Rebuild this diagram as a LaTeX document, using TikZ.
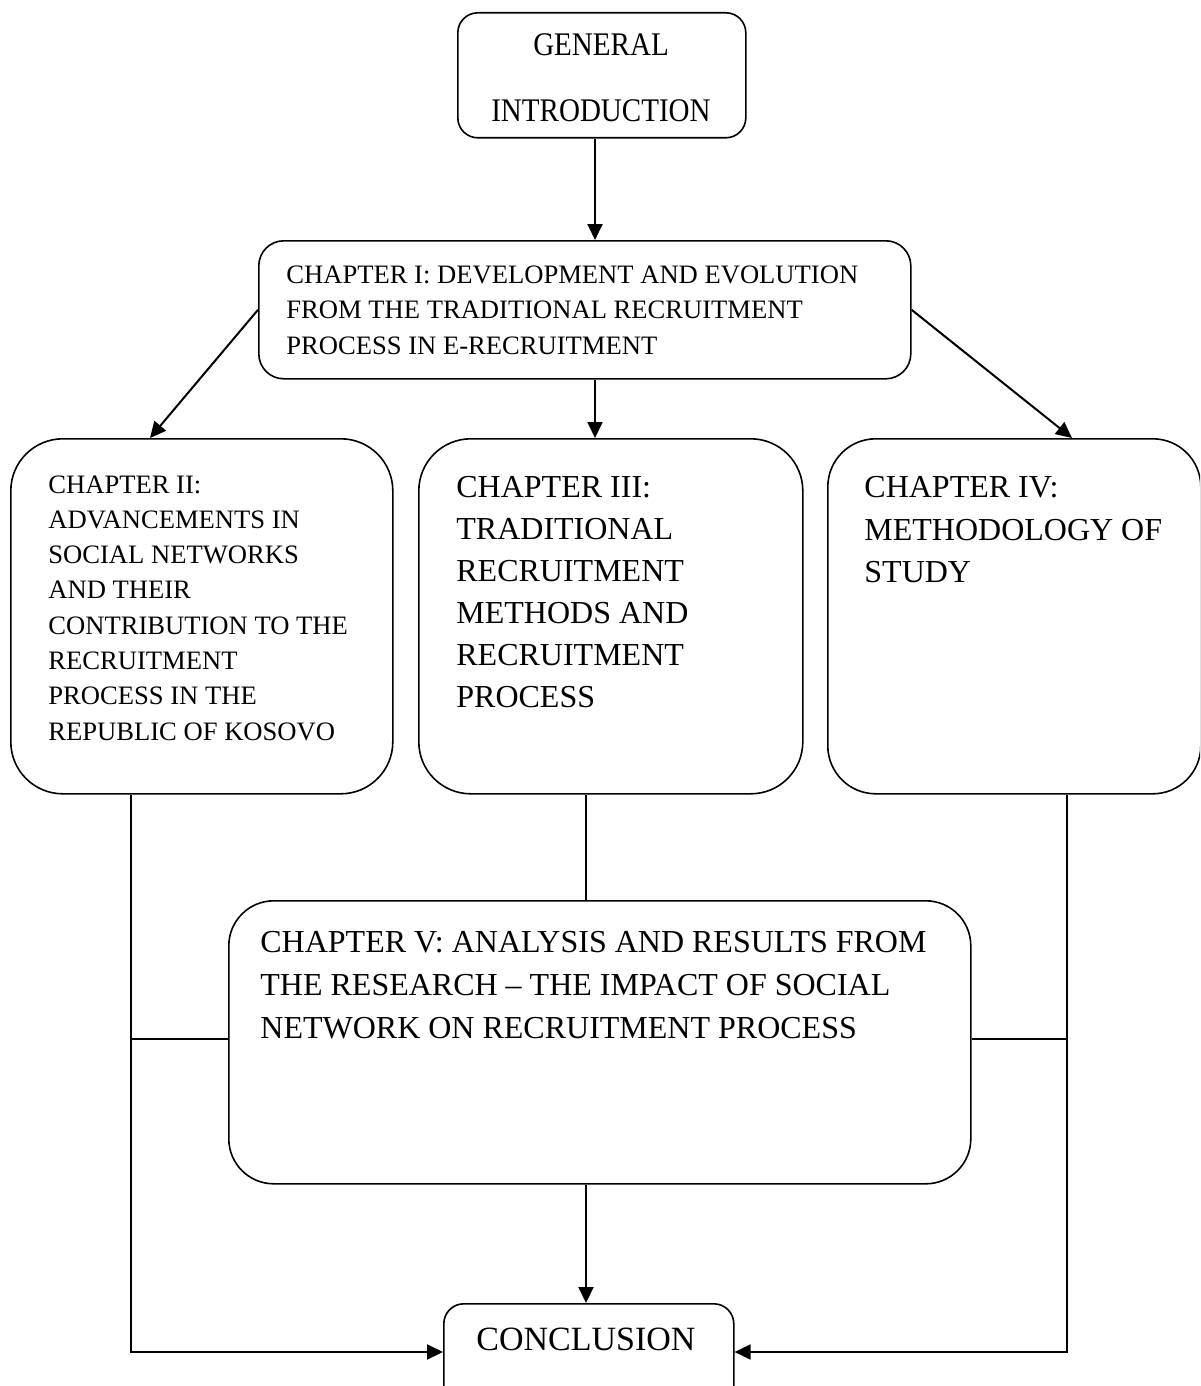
\documentclass[tikz,border=0pt]{standalone}
\usepackage{fontspec}
\setmainfont{Liberation Serif}
\newfontfamily\condensedserif[FakeStretch=0.88]{Liberation Serif}
\usetikzlibrary{arrows.meta,calc}
\begin{document}
\begin{tikzpicture}[x=0.5pt,y=-0.5pt,
  box/.style={draw, line width=0.8pt, anchor=north west, inner sep=0pt},
  txt/.style={anchor=base west, inner sep=0pt},
  conn/.style={line width=1pt},
  arr/.style={line width=1pt, -{Triangle[length=8pt,width=7.5pt]}}]
\useasboundingbox (0,0) rectangle (1200,1386);
\clip (0,0) rectangle (1200,1386);

% boxes
\node[box, rounded corners=10pt, minimum width=144pt, minimum height=62.5pt] (gen) at (457,12) {};
\node[box, rounded corners=12.5pt, minimum width=326pt, minimum height=69pt] (c1) at (258,240) {};
\node[box, rounded corners=26pt, minimum width=191pt, minimum height=177.5pt] (c2) at (10,438) {};
\node[box, rounded corners=26pt, minimum width=192pt, minimum height=177.5pt] (c3) at (418,438) {};
\node[box, rounded corners=24pt, minimum width=186.5pt, minimum height=177.5pt] (c4) at (827,438) {};
\node[box, rounded corners=22.5pt, minimum width=371pt, minimum height=141.5pt] (c5) at (228,900) {};
\node[box, rounded corners=10pt, minimum width=145pt, minimum height=60pt] (conc) at (443,1303) {};

% texts
\node[inner sep=0pt, align=center, font=\condensedserif\fontsize{16.5pt}{33.25pt}\selectfont] (gent) at (601,77.5) {GENERAL\\INTRODUCTION};
\node[txt, font=\fontsize{13.3pt}{17.75pt}\selectfont] (c1t) at (286,283) {\begin{tabular}[t]{@{}l@{}}CHAPTER I: DEVELOPMENT AND EVOLUTION\\FROM THE TRADITIONAL RECRUITMENT\\PROCESS IN E-RECRUITMENT\end{tabular}};
\node[txt, font=\fontsize{13.3pt}{17.65pt}\selectfont] (c2t) at (48,493) {\begin{tabular}[t]{@{}l@{}}CHAPTER II:\\ADVANCEMENTS IN\\SOCIAL NETWORKS\\AND THEIR\\CONTRIBUTION TO THE\\RECRUITMENT\\PROCESS IN THE\\REPUBLIC OF KOSOVO\end{tabular}};
\node[txt, font=\fontsize{16pt}{21pt}\selectfont] (c3t) at (456,497) {\begin{tabular}[t]{@{}l@{}}CHAPTER III:\\TRADITIONAL\\RECRUITMENT\\METHODS AND\\RECRUITMENT\\PROCESS\end{tabular}};
\node[txt, font=\fontsize{16pt}{21.25pt}\selectfont] (c4t) at (864,497.5) {\begin{tabular}[t]{@{}l@{}}CHAPTER IV:\\METHODOLOGY OF\\STUDY\end{tabular}};
\node[txt, font=\fontsize{16pt}{21.5pt}\selectfont] (c5t) at (260,952.6) {\begin{tabular}[t]{@{}l@{}}CHAPTER V: ANALYSIS AND RESULTS FROM\\THE RESEARCH – THE IMPACT OF SOCIAL\\NETWORK ON RECRUITMENT PROCESS\end{tabular}};
\node[inner sep=0pt, font=\fontsize{17pt}{20pt}\selectfont] (conct) at (586,1339) {CONCLUSION};

% helper coordinates
\coordinate (xa) at (595,0);
\coordinate (xb) at (150,0);
\coordinate (xc) at (1072,0);
\coordinate (xl) at (131,0);
\coordinate (xr) at (1067,0);
\coordinate (xm) at (586,0);
\coordinate (ym) at (0,1039);
\coordinate (yc) at (0,1352);

% connectors
\draw[arr] (gen.south -| xa) -- (c1.north -| xa);
\draw[arr] (c1.west) -- (c2.north -| xb);
\draw[arr] (c1.east) -- (c4.north -| xc);
\draw[arr] (c1.south -| xa) -- (c3.north -| xa);
\draw[arr] (c2.south -| xl) |- (conc.west |- yc);
\draw[arr] (c4.south -| xr) |- (conc.east |- yc);
\draw[conn] (c3.south -| xm) -- (c5.north -| xm);
\draw[conn] (xl |- ym) -- (c5.west |- ym);
\draw[conn] (c5.east |- ym) -- (xr |- ym);
\draw[arr] (c5.south -| xm) -- (conc.north -| xm);
\end{tikzpicture}
\end{document}
